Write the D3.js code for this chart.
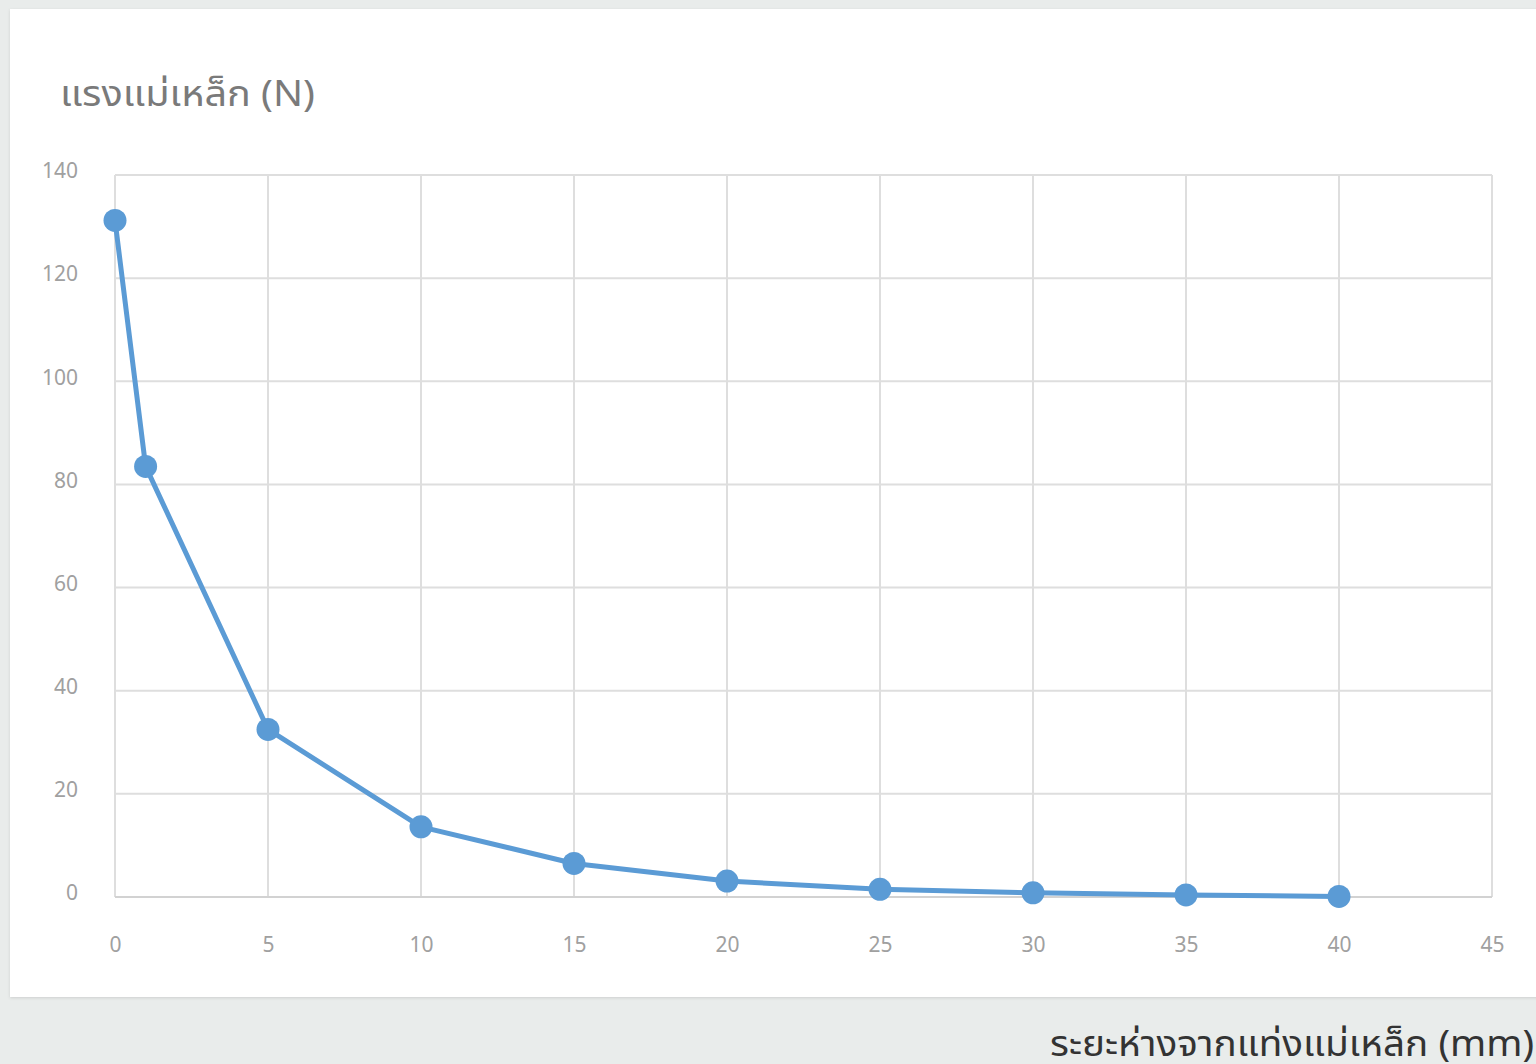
<!DOCTYPE html>
<html>
<head>
<meta charset="utf-8">
<script src="https://cdn.jsdelivr.net/npm/d3@7"></script>
<style>
  html, body { margin: 0; padding: 0; background: #e9eceb; }
  svg { display: block; }
</style>
</head>
<body>
<svg id="chart" width="1536" height="1064"></svg>
<script>
// Distance from the magnet bar (mm) and the measured magnetic force (N)
const distances = [0, 1, 5, 10, 15, 20, 25, 30, 35, 40];
const forces = [131.2, 83.5, 32.5, 13.6, 6.5, 3.1, 1.5, 0.8, 0.4, 0.1];
const xTicks = [0, 5, 10, 15, 20, 25, 30, 35, 40, 45];
const yTicks = [0, 20, 40, 60, 80, 100, 120, 140];
const yTitle = "แรงแม่เหล็ก (N)";
const xTitle = "ระยะห่างจากแท่งแม่เหล็ก (mm)";

const svg = d3.select("#chart");
const font = "'Noto Sans', 'Noto Sans Thai', 'DejaVu Sans', sans-serif";

// card with a soft shadow
const defs = svg.append("defs");
const sh = defs.append("filter").attr("id", "shadow").attr("x", "-5%").attr("y", "-5%").attr("width", "110%").attr("height", "110%");
sh.append("feDropShadow").attr("dx", 0).attr("dy", 1).attr("stdDeviation", 1.5).attr("flood-color", "#000").attr("flood-opacity", 0.12);

svg.append("rect")
  .attr("x", 10).attr("y", 9).attr("width", 1540).attr("height", 988)
  .attr("fill", "#ffffff").attr("filter", "url(#shadow)");

const x = d3.scaleLinear().domain([0, 45]).range([115, 1492]);
const y = d3.scaleLinear().domain([0, 140]).range([897, 175]);

// gridlines
const grid = svg.append("g");
grid.selectAll("line.v").data(xTicks).join("line")
  .attr("class", "v")
  .attr("x1", d => x(d)).attr("x2", d => x(d))
  .attr("y1", y(140)).attr("y2", y(0))
  .attr("stroke", "#dedede").attr("stroke-width", 2);
grid.selectAll("line.h").data(yTicks).join("line")
  .attr("class", "h")
  .attr("x1", x(0)).attr("x2", x(45))
  .attr("y1", d => y(d)).attr("y2", d => y(d))
  .attr("stroke", d => d === 0 ? "#d2d2d2" : "#dedede").attr("stroke-width", 2);

// axes (labels only; lines come from the grid)
const xAxis = d3.axisBottom(x).tickValues(xTicks).tickSize(0).tickPadding(0);
const gx = svg.append("g").attr("transform", `translate(0, ${y(0) + 48})`).call(xAxis);
gx.select(".domain").remove();
gx.selectAll("text")
  .attr("font-family", font).attr("font-size", 21).attr("fill", "#a0a0a0")
  .attr("dy", "0.35em");

const yAxis = d3.axisLeft(y).tickValues(yTicks).tickSize(0).tickPadding(0);
const gy = svg.append("g").attr("transform", `translate(78, -4)`).call(yAxis);
gy.select(".domain").remove();
gy.selectAll("text")
  .attr("font-family", font).attr("font-size", 21).attr("fill", "#a0a0a0");

// titles
svg.append("text")
  .attr("x", 60).attr("y", 106)
  .attr("font-family", font).attr("font-size", 36).attr("fill", "#7a7a7a")
  .attr("textLength", 255).attr("lengthAdjust", "spacingAndGlyphs")
  .text(yTitle);

svg.append("text")
  .attr("x", 1050).attr("y", 1056)
  .attr("font-family", font).attr("font-size", 36).attr("fill", "#333333")
  .attr("textLength", 484).attr("lengthAdjust", "spacingAndGlyphs")
  .text(xTitle);

// data line and markers
const pts = distances.map((d, i) => [d, forces[i]]);
svg.append("path")
  .datum(pts)
  .attr("fill", "none")
  .attr("stroke", "#5b9bd5").attr("stroke-width", 5)
  .attr("stroke-linejoin", "round")
  .attr("d", d3.line().x(d => x(d[0])).y(d => y(d[1])));

svg.selectAll("circle.pt").data(pts).join("circle")
  .attr("class", "pt")
  .attr("cx", d => x(d[0])).attr("cy", d => y(d[1]))
  .attr("r", 11.5)
  .attr("fill", "#5b9bd5");
</script>
</body>
</html>
